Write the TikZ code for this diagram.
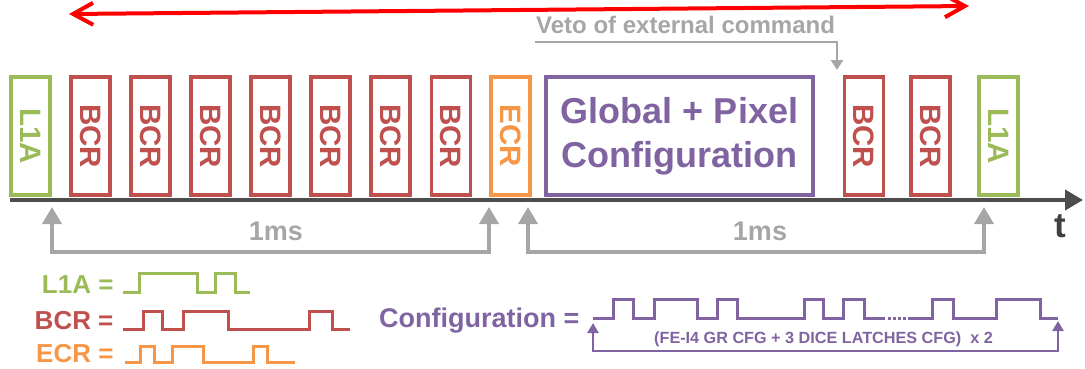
\documentclass[tikz,border=0pt]{standalone}
\usepackage{fontspec}
\setmainfont{Liberation Sans}
\usetikzlibrary{arrows.meta}
\definecolor{cgreen}{HTML}{9BBB59}
\definecolor{cred}{HTML}{C0504D}
\definecolor{corange}{HTML}{F79646}
\definecolor{cpurple}{HTML}{8064A2}
\definecolor{cgray}{HTML}{A6A6A6}
\definecolor{caxis}{HTML}{4D4D4D}
\definecolor{ctext}{HTML}{404040}
\definecolor{cbright}{HTML}{FF0000}
\begin{document}
\begin{tikzpicture}[x=1pt,y=-1pt,
  cmdbox/.style={draw, line width=3.5pt, fill=white, rotate=-90,
    minimum width=118pt, minimum height=39pt, inner sep=0pt,
    font=\bfseries\fontsize{29.5}{36}\selectfont},
  l1abox/.style={cmdbox, draw=cgreen, text=cgreen},
  bcrbox/.style={cmdbox, draw=cred, text=cred},
  ecrbox/.style={cmdbox, draw=corange, text=corange},
  cfgbox/.style={draw=cpurple, text=cpurple, line width=3.5pt, fill=white,
    minimum width=267pt, minimum height=118pt, inner sep=0pt, align=center,
    font=\bfseries\fontsize{36}{44}\selectfont},
  timeaxis/.style={draw=caxis, line width=4pt, -{Triangle[length=18pt,width=20pt]}},
  spanarrow/.style={draw=cgray, line width=4pt,
    {Triangle[length=17pt,width=19pt]}-{Triangle[length=17pt,width=19pt]}},
  spanlabel/.style={text=cgray, font=\bfseries\fontsize{27}{32}\selectfont, anchor=base},
  redarrow/.style={draw=cbright, line width=4pt,
    {Straight Barb[length=20pt,width=22pt]}-{Straight Barb[length=20pt,width=22pt]}},
  vetoline/.style={draw=cgray, line width=2.5pt, -{Triangle[length=10pt,width=12pt]}},
  legtext/.style={anchor=base east, font=\bfseries\fontsize{26}{30}\selectfont},
  wave/.style={line width=3pt, line join=miter},
  bracket/.style={draw=cpurple, line width=2.5pt,
    {Triangle[length=10pt,width=11pt]}-{Triangle[length=10pt,width=11pt]}}
]
\useasboundingbox (0,0) rectangle (1085,368);

% top red arrow
\coordinate (rl) at (69,14);
\coordinate (rr) at (969,6);
\draw[redarrow] (rl) -- (rr);

% time axis
\coordinate (ax0) at (10,200);
\coordinate (ax1) at (1083,200);
\draw[timeaxis] (ax0) -- (ax1);
\node[anchor=base, text=ctext, font=\bfseries\fontsize{35}{40}\selectfont] (tlabel) at (1060,237) {t};

% boxes
\node[l1abox] (l1a1) at (30.5,136) {L1A};
\node[bcrbox] (b1) at (90.5,136) {BCR};
\node[bcrbox] (b2) at (150.5,136) {BCR};
\node[bcrbox] (b3) at (210.5,136) {BCR};
\node[bcrbox] (b4) at (270.5,136) {BCR};
\node[bcrbox] (b5) at (330.5,136) {BCR};
\node[bcrbox] (b6) at (390.5,136) {BCR};
\node[bcrbox] (b7) at (451,136) {BCR};
\node[ecrbox] (ecr) at (510.5,136) {ECR};
\node[cfgbox] (cfg) at (679.5,136) {Global + Pixel\\Configuration};
\node[bcrbox] (b8) at (864,136) {BCR};
\node[bcrbox] (b9) at (930.5,136) {BCR};
\node[l1abox] (l1a2) at (998.5,136) {L1A};

% veto
\node[anchor=base west, text=cgray, font=\bfseries\fontsize{24}{28}\selectfont, inner sep=0pt] (veto) at (536,33) {Veto of external command};
\coordinate (v0) at (535,42);
\coordinate (v1) at (837,70);
\draw[vetoline] (v0) -| (v1);

% 1ms spans
\coordinate (s1a) at (52,207);
\coordinate (s1b) at (489,207);
\draw[spanarrow] (s1a) -- (52,252) -- (489,252) -- (s1b);
\node[spanlabel] (ms1) at (276,240) {1ms};
\coordinate (s2a) at (528,207);
\coordinate (s2b) at (984,207);
\draw[spanarrow] (s2a) -- (528,252) -- (984,252) -- (s2b);
\node[spanlabel] (ms2) at (760,240) {1ms};

% legend
\node[legtext, text=cgreen] (legl1a) at (117,293) {L1A =};
\node[legtext, text=cred] (legbcr) at (117,329) {BCR =};
\node[legtext, text=corange] (legecr) at (117,362) {ECR =};
\draw[wave, draw=cgreen] (123,292) -- (139,292) -- (139,273) -- (197,273) -- (197,292) -- (215,292) -- (215,273) -- (235,273) -- (235,292) -- (250,292);
\draw[wave, draw=cred] (123,329) -- (143,329) -- (143,311) -- (162,311) -- (162,329) -- (183,329) -- (183,311) -- (228,311) -- (228,329) -- (309,329) -- (309,311) -- (332,311) -- (332,329) -- (350,329);
\draw[wave, draw=corange] (125,362) -- (140,362) -- (140,346) -- (154,346) -- (154,362) -- (172,362) -- (172,346) -- (203,346) -- (203,362) -- (253,362) -- (253,346) -- (267,346) -- (267,362) -- (295,362);

% configuration
\node[legtext, text=cpurple, font=\bfseries\fontsize{27}{31}\selectfont] (legcfg) at (583,327) {Configuration =};
\draw[wave, draw=cpurple] (593,318) -- (613,318) -- (613,299) -- (633,299) -- (633,318) -- (654,318) -- (654,299) -- (697,299) -- (697,318) -- (717,318) -- (717,299) -- (737,299) -- (737,318) -- (804,318) -- (804,299) -- (823,299) -- (823,318) -- (843,318) -- (843,299) -- (864,299) -- (864,318) -- (885,318);
\draw[wave, draw=cpurple, dash pattern=on 3pt off 2pt] (888,318) -- (910,318);
\draw[wave, draw=cpurple] (910,318) -- (932,318) -- (932,299) -- (953,299) -- (953,318) -- (996,318) -- (996,299) -- (1040,299) -- (1040,318) -- (1058,318);
\coordinate (c0) at (593,323);
\coordinate (c1) at (1058,321);
\draw[bracket] (c0) -- (593,351) -- (1058,351) -- (c1);
\node[anchor=base, text=cpurple, font=\bfseries\fontsize{16.2}{19}\selectfont] (cfgnote) at (823.5,343) {(FE-I4 GR CFG + 3 DICE LATCHES CFG)\ \ x 2};
\end{tikzpicture}
\end{document}
